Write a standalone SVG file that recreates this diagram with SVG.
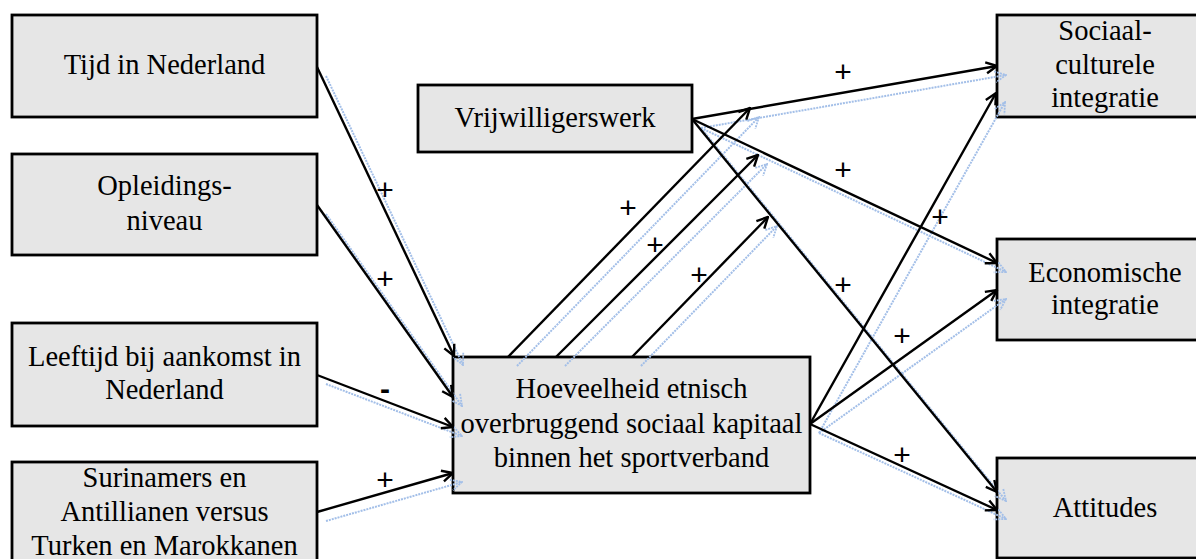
<svg xmlns="http://www.w3.org/2000/svg" width="1196" height="559" viewBox="0 0 1196 559">
<style>
.box{fill:#e6e6e6;stroke:#000;stroke-width:2.8}
.t{font-family:'Liberation Serif','Times New Roman',serif;font-size:28.5px;fill:#000;text-anchor:middle}
.lbl{font-family:'Liberation Sans',Arial,sans-serif;font-size:30px;fill:#000;text-anchor:middle}
.c{fill:none;stroke:#000;stroke-width:2.4;marker-end:url(#ah)}
.s{fill:none;stroke:#a3bfe8;stroke-width:2;stroke-dasharray:2 1;marker-end:url(#ahs)}
</style>
<defs>
<marker id="ah" viewBox="0 0 14 14" refX="13" refY="7" markerWidth="14" markerHeight="14" markerUnits="userSpaceOnUse" orient="auto">
<path d="M2,1.5 L13,7 L2,12.5" fill="none" stroke="#000" stroke-width="2.4"/>
</marker>
<marker id="ahs" viewBox="0 0 14 14" refX="13" refY="7" markerWidth="14" markerHeight="14" markerUnits="userSpaceOnUse" orient="auto">
<path d="M2,1.5 L13,7 L2,12.5" fill="none" stroke="#a3bfe8" stroke-width="1.8" stroke-dasharray="2 1"/>
</marker>
</defs>
<rect width="1196" height="559" fill="#fff"/>

<g id="node-tijd">
<rect class="box" x="12" y="15" width="305" height="102"/>
<text class="t" x="164.5" y="74">Tijd in Nederland</text>
</g>
<g id="node-opleiding">
<rect class="box" x="12" y="154" width="305" height="101"/>
<text class="t" x="164.5" y="195">Opleidings-</text>
<text class="t" x="164.5" y="230">niveau</text>
</g>
<g id="node-leeftijd">
<rect class="box" x="12" y="323" width="305" height="103"/>
<text class="t" x="164.5" y="366">Leeftijd bij aankomst in</text>
<text class="t" x="164.5" y="399">Nederland</text>
</g>
<g id="node-herkomst">
<rect class="box" x="12" y="462" width="305" height="104"/>
<text class="t" x="164.5" y="487">Surinamers en</text>
<text class="t" x="164.5" y="521">Antillianen versus</text>
<text class="t" x="164.5" y="555">Turken en Marokkanen</text>
</g>
<g id="node-vrijwilligerswerk">
<rect class="box" x="418" y="85" width="274" height="67"/>
<text class="t" x="555" y="127">Vrijwilligerswerk</text>
</g>
<g id="node-kapitaal">
<rect class="box" x="453" y="357" width="357" height="136"/>
<text class="t" x="631.5" y="398">Hoeveelheid etnisch</text>
<text class="t" x="631.5" y="433">overbruggend sociaal kapitaal</text>
<text class="t" x="631.5" y="467">binnen het sportverband</text>
</g>
<g id="node-sociaal">
<rect class="box" x="997" y="15" width="230" height="102"/>
<text class="t" x="1105" y="40">Sociaal-</text>
<text class="t" x="1105" y="74">culturele</text>
<text class="t" x="1105" y="107">integratie</text>
</g>
<g id="node-economisch">
<rect class="box" x="997" y="239" width="230" height="101"/>
<text class="t" x="1105" y="282">Economische</text>
<text class="t" x="1105" y="314">integratie</text>
</g>
<g id="node-attitudes">
<rect class="box" x="997" y="458" width="230" height="100"/>
<text class="t" x="1105" y="517">Attitudes</text>
</g>

<g id="shadows" transform="translate(9,9)">
<path class="s" d="M317,67 L454,356"/>
<path class="s" d="M317,205 L453,397"/>
<path class="s" d="M317,375 L453,427"/>
<path class="s" d="M317,512 L453,473"/>
<path class="s" d="M508,357 L750,108"/>
<path class="s" d="M556,357 L758,155"/>
<path class="s" d="M632,357 L768,217"/>
<path class="s" d="M692,119 L997,66"/>
<path class="s" d="M692,119 L997,263"/>
<path class="s" d="M692,119 L997,492"/>
<path class="s" d="M810,424 L996,93"/>
<path class="s" d="M810,424 L997,290"/>
<path class="s" d="M810,424 L997,510"/>
</g>

<g id="connectors">
<path class="c" d="M317,67 L454,356"/>
<path class="c" d="M317,205 L453,397"/>
<path class="c" d="M317,375 L453,427"/>
<path class="c" d="M317,512 L453,473"/>
<path class="c" d="M508,357 L750,108"/>
<path class="c" d="M556,357 L758,155"/>
<path class="c" d="M632,357 L768,217"/>
<path class="c" d="M692,119 L997,66"/>
<path class="c" d="M692,119 L997,263"/>
<path class="c" d="M692,119 L997,492"/>
<path class="c" d="M810,424 L996,93"/>
<path class="c" d="M810,424 L997,290"/>
<path class="c" d="M810,424 L997,510"/>
</g>

<g id="labels">
<text class="lbl" x="385" y="200">+</text>
<text class="lbl" x="385" y="289">+</text>
<text class="lbl" x="385" y="399" font-weight="bold">-</text>
<text class="lbl" x="385" y="490">+</text>
<text class="lbl" x="628" y="218">+</text>
<text class="lbl" x="655" y="255">+</text>
<text class="lbl" x="699" y="285">+</text>
<text class="lbl" x="843" y="82">+</text>
<text class="lbl" x="843" y="180">+</text>
<text class="lbl" x="843" y="295">+</text>
<text class="lbl" x="940" y="227">+</text>
<text class="lbl" x="902" y="346">+</text>
<text class="lbl" x="902" y="465">+</text>
</g>
</svg>
